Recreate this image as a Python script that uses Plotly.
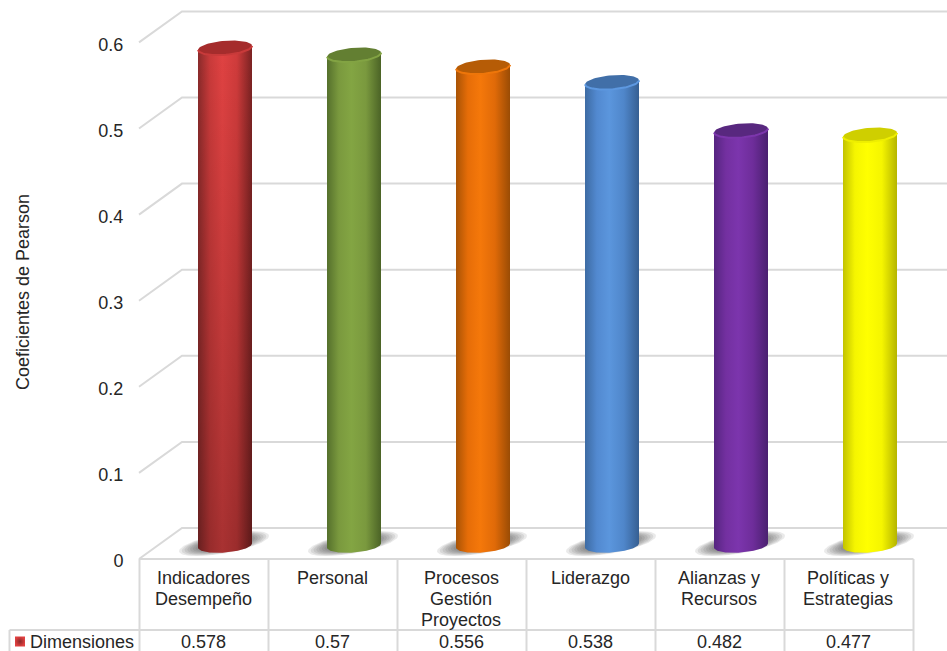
import numpy as np
import plotly.graph_objects as go

CATEGORIES = ["Indicadores<br>Desempeño", "Personal", "Procesos<br>Gestión<br>Proyectos",
              "Liderazgo", "Alianzas y<br>Recursos", "Políticas y<br>Estrategias"]
VALUES = [0.578, 0.57, 0.556, 0.538, 0.482, 0.477]
Y_TICKS = [0, 0.1, 0.2, 0.3, 0.4, 0.5, 0.6]
Y_TICK_LABELS = ["0", "0.1", "0.2", "0.3", "0.4", "0.5", "0.6"]
SERIES_NAME = "Dimensiones"
Y_TITLE = "Coeficientes de Pearson"

# Per-cylinder shading: edge, mid, highlight, right mid, right edge, cap, rim
PALETTES = [
    ["#8a2a2a", "#c93a3a", "#e04242", "#cf3b3b", "#7a2222", "#a52c2c", "#c83a3a"],
    ["#55702c", "#7a993e", "#83a543", "#7a993e", "#4b6326", "#637f32", "#82a343"],
    ["#a85305", "#e66d08", "#f5780a", "#e06a08", "#9a4c05", "#b65c06", "#ee760a"],
    ["#3d6ba3", "#5289d0", "#5b96dd", "#4f86ca", "#365f92", "#416fa8", "#5d98e0"],
    ["#552580", "#7330a0", "#7c35ad", "#6e2d9a", "#4a2070", "#58287f", "#7c36ac"],
    ["#c2c200", "#f5f500", "#ffff00", "#f5f500", "#b5b500", "#cfcf00", "#eeee00"],
]
# Darkening towards the base of each cylinder
BASE_FADE = [0.25, 0, 0, 0, 0, 0]

WIDTH, HEIGHT = 947, 651
GRID = "#d9d9d9"
TEXT = "#262626"
FONT = "Liberation Sans"
LINE_GAP_PX = 21

# Pixel scale of the value axis and of the category axis
UNIT_Y = 861.0
ZERO_PX = 559.0
STEP_X = 129.0
FIRST_PX = 204.0
px_per_x, px_per_y = STEP_X, UNIT_Y
TEXT_NUDGE = 1 / px_per_x

# Pseudo-3D depth: offset of the back wall and of the cylinders from the front plane
BACK_DX, BACK_DY = 43 / px_per_x, 31 / px_per_y
BAR_DX, BAR_DY = 21 / px_per_x, 13.5 / px_per_y
RADIUS_X, RADIUS_Y = 27 / px_per_x, 7 / px_per_y
TILT = 2 / px_per_y / RADIUS_X      # caps rise slightly to the right


def x_at(px):
    return (px - FIRST_PX) / px_per_x


def y_at(px):
    return (ZERO_PX - px) / px_per_y


def ellipse(cx, cy, t, rx=RADIUS_X, ry=RADIUS_Y, tilt=TILT):
    return cx + rx * np.cos(t), cy + ry * np.sin(t) + tilt * rx * np.cos(t)


fig = go.Figure()

# Back wall, side diagonals and floor
grid_x, grid_y = [], []
left, back_left, right = x_at(139), x_at(139) + BACK_DX, x_at(WIDTH + 2)
for v in Y_TICKS:
    grid_x += [left, back_left, right, None]
    grid_y += [v, v + BACK_DY, v + BACK_DY, None]
fig.add_trace(go.Scatter(x=grid_x, y=grid_y, mode="lines", hoverinfo="skip", showlegend=False,
                         line=dict(color=GRID, width=2)))

angle = np.linspace(0, 2 * np.pi, 80)
front = np.linspace(-np.pi, 0, 50)

for i, (value, pal, fade) in enumerate(zip(VALUES, PALETTES, BASE_FADE)):
    cx = i + BAR_DX
    base, top = BAR_DY, value + BAR_DY

    # Soft shadow on the floor, built from nested translucent ellipses
    for k, grow in enumerate(np.linspace(1.0, 0.45, 10)):
        sx, sy = ellipse(cx - 1 / px_per_x, base + 2 / px_per_y, angle,
                         rx=45 / px_per_x * grow, ry=10 / px_per_y * grow, tilt=0.17 * px_per_x / px_per_y)
        fig.add_trace(go.Scatter(x=sx, y=sy, mode="lines", fill="toself", hoverinfo="skip", showlegend=False,
                                 line=dict(width=0), fillcolor="rgba(60,60,60,0.11)"))

    # Cylinder body: top front arc, then bottom front arc back again
    tx, ty = ellipse(cx, top, front)
    bx, by = ellipse(cx, base, front[::-1])
    body_x = np.r_[tx, bx, tx[0]]
    body_y = np.r_[ty, by, ty[0]]
    fig.add_trace(go.Scatter(
        x=body_x, y=body_y, mode="lines", fill="toself", line=dict(width=0), showlegend=False,
        name=CATEGORIES[i].replace("<br>", " "),
        fillgradient=dict(type="horizontal", start=cx - RADIUS_X, stop=cx + RADIUS_X,
                          colorscale=[[0, pal[0]], [0.22, pal[1]], [0.45, pal[2]], [0.72, pal[3]], [1, pal[4]]]),
    ))
    if fade:
        fig.add_trace(go.Scatter(
            x=body_x, y=body_y, mode="lines", fill="toself", line=dict(width=0), showlegend=False,
            hoverinfo="skip",
            fillgradient=dict(type="vertical", start=base, stop=top,
                              colorscale=[[0, f"rgba(0,0,0,{fade})"], [1, "rgba(0,0,0,0)"]]),
        ))

    # Cap and its bevelled front rim
    capx, capy = ellipse(cx, top, angle)
    fig.add_trace(go.Scatter(x=capx, y=capy, mode="lines", fill="toself", hoverinfo="skip", showlegend=False,
                             line=dict(width=0), fillcolor=pal[5]))
    fig.add_trace(go.Scatter(x=tx, y=ty, mode="lines", hoverinfo="skip", showlegend=False,
                             line=dict(width=2, color=pal[6])))

# Series key in the data table
fig.add_trace(go.Scatter(x=[x_at(20)], y=[y_at(641.5)], mode="markers", showlegend=False, name=SERIES_NAME,
                         marker=dict(symbol="square", size=10, color="#e04040", line=dict(width=0),
                                     gradient=dict(type="radial", color="#8a2a2a"))))

# Data table rules
x_lines = [i - 0.5 for i in range(len(VALUES) + 1)]
shapes = [dict(type="line", xref="x", yref="y", x0=x, x1=x, y0=0, y1=y_at(HEIGHT + 2),
               line=dict(color=GRID, width=2)) for x in x_lines]
shapes.append(dict(type="line", xref="x", yref="y", x0=-0.5, x1=x_lines[-1], y0=0, y1=0,
                   line=dict(color=GRID, width=2)))
shapes.append(dict(type="line", xref="x", yref="y", x0=x_at(9.5), x1=x_lines[-1], y0=y_at(630), y1=y_at(630),
                   line=dict(color=GRID, width=2)))
shapes.append(dict(type="line", xref="x", yref="y", x0=x_at(9.5), x1=x_at(9.5), y0=y_at(630), y1=y_at(HEIGHT + 2),
                   line=dict(color=GRID, width=2)))

font = dict(family=FONT, size=18, color=TEXT)
annotations = []
for i, (label, value) in enumerate(zip(CATEGORIES, VALUES)):
    # Category lines are placed one by one to keep the tighter table leading
    for n, part in enumerate(label.split("<br>")):
        annotations.append(dict(x=i - TEXT_NUDGE, y=y_at(578 + n * LINE_GAP_PX), xref="x", yref="y", text=part,
                                showarrow=False, xanchor="center", yanchor="middle", align="center", font=font))
    annotations.append(dict(x=i - TEXT_NUDGE, y=y_at(642), xref="x", yref="y", text=f"{value:g}", showarrow=False,
                            xanchor="center", yanchor="middle", font=font))
annotations.append(dict(x=x_at(28), y=y_at(642), xref="x", yref="y", text=SERIES_NAME, showarrow=False,
                        xanchor="left", yanchor="middle", font=font))
annotations.append(dict(x=x_at(23), y=y_at(292), xref="x", yref="y", text=Y_TITLE, showarrow=False,
                        textangle=-90, xanchor="center", yanchor="middle", font=font))

fig.update_layout(
    width=WIDTH, height=HEIGHT, margin=dict(l=0, r=0, t=0, b=0), autosize=False,
    paper_bgcolor="white", plot_bgcolor="white", showlegend=False,
    shapes=shapes, annotations=annotations, font=font,
    xaxis=dict(range=[x_at(0), x_at(WIDTH)], visible=False, fixedrange=True),
    yaxis=dict(range=[y_at(HEIGHT), y_at(0)], anchor="free", position=139 / WIDTH, tickmode="array",
               tickvals=Y_TICKS, ticktext=Y_TICK_LABELS, showgrid=False, zeroline=False, showline=False,
               ticks="outside", ticklen=12, tickcolor="rgba(0,0,0,0)", automargin=False, fixedrange=True,
               ticklabelshift=2, tickfont=font),
)

fig.write_html("out.html")
